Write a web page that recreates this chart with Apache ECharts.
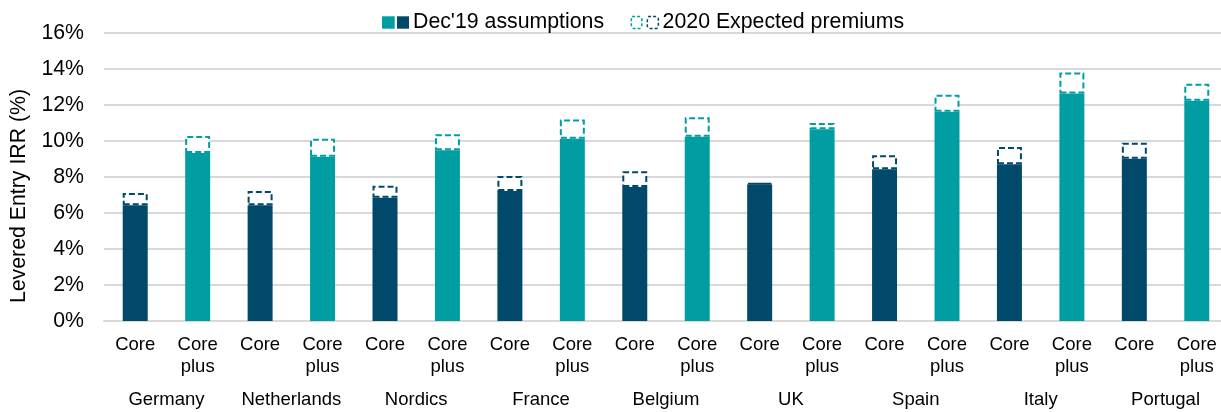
<!DOCTYPE html>
<html>
<head>
<meta charset="utf-8">
<script src="https://cdn.jsdelivr.net/npm/echarts@6/dist/echarts.min.js"></script>
<style>
  html, body { margin: 0; padding: 0; background: #fff; }
  #chart { width: 1221px; height: 412px; }
</style>
</head>
<body>
<div id="chart"></div>
<script>
// categories
var countries = ['Germany', 'Netherlands', 'Nordics', 'France', 'Belgium', 'UK', 'Spain', 'Italy', 'Portugal'];
var tiers = ['Core', 'Core plus'];
// Dec'19 assumptions, per country: Core, Core plus
var dec19 = [6.43, 9.33, 6.43, 9.13, 6.85, 9.48, 7.22, 10.13, 7.44, 10.24, 7.59, 10.65, 8.43, 11.62, 8.71, 12.64, 9.01, 12.23];
// 2020 expected premiums (added on top)
var premium = [0.68, 0.95, 0.79, 1.0, 0.67, 0.89, 0.84, 1.07, 0.88, 1.08, 0.08, 0.35, 0.78, 0.95, 0.95, 1.16, 0.89, 0.95];
var yTicks = [0, 2, 4, 6, 8, 10, 12, 14, 16];

var navy = '#00496b';
var teal = '#009ea2';
var font = 'Liberation Sans, Arial, sans-serif';

var xCats = [];
countries.forEach(function (c) {
    tiers.forEach(function (t) { xCats.push(t); });
});
function tierColor(i) { return i % 2 === 0 ? navy : teal; }

var solidData = dec19.map(function (v, i) {
    return { value: v, itemStyle: { color: tierColor(i) } };
});
var premData = premium.map(function (v, i) {
    return { value: v, itemStyle: { color: '#fff', borderColor: tierColor(i) } };
});

var chart = echarts.init(document.getElementById('chart'));
var option = {
    animation: false,
    textStyle: { fontFamily: font },
    legend: {
        selectedMode: false,
        top: 7,
        left: 372,
        itemWidth: 0,
        itemHeight: 0,
        itemGap: 22,
        data: ["Dec'19 assumptions", '2020 Expected premiums'],
        textStyle: {
            color: '#000',
            fontSize: 21.3,
            fontFamily: font,
            rich: {
                a: { width: 12.7, height: 12.4, backgroundColor: teal },
                b: { width: 12, height: 12.4, backgroundColor: navy },
                c: { width: 9, height: 10.5, backgroundColor: '#fff', borderColor: teal, borderWidth: 1.5, borderType: [3, 2] },
                d: { width: 9.5, height: 10.5, backgroundColor: '#fff', borderColor: navy, borderWidth: 1.5, borderType: [3, 2] },
                g: { width: 2.3 },
                g2: { width: 7 },
                h: { width: 4 },
                h2: { width: 5 },
                t: { fontSize: 21.3, color: '#000', fontFamily: font }
            }
        },
        formatter: function (name) {
            if (name === "Dec'19 assumptions") {
                return '{a|}{g|}{b|}{h|}{t|' + name + '}';
            }
            return '{c|}{g2|}{d|}{h2|}{t|' + name + '}';
        }
    },
    grid: {
        left: 104,
        top: 33,
        width: 1124,
        height: 288,
        outerBoundsMode: 'none'
    },
    xAxis: [
        {
            type: 'category',
            data: xCats,
            position: 'bottom',
            axisLine: { show: true, lineStyle: { color: '#d9d9d9', width: 2 } },
            axisTick: { show: false },
            axisLabel: {
                interval: 0,
                margin: 13,
                color: '#000',
                fontSize: 18.5,
                lineHeight: 22,
                fontFamily: font,
                formatter: function (v) { return v.replace(' ', '\n'); }
            }
        },
        {
            type: 'category',
            data: countries,
            position: 'bottom',
            offset: 0,
            axisLine: { show: false },
            axisTick: { show: false },
            splitLine: { show: false },
            axisLabel: {
                interval: 0,
                margin: 69,
                color: '#000',
                fontSize: 18.5,
                fontFamily: font
            }
        }
    ],
    yAxis: {
        type: 'value',
        min: yTicks[0],
        max: yTicks[yTicks.length - 1],
        interval: 2,
        name: 'Levered Entry IRR (%)',
        nameLocation: 'middle',
        nameGap: 74,
        nameRotate: 90,
        nameTextStyle: { color: '#000', fontSize: 21.3, fontFamily: font, padding: [0, 38, 0, 0] },
        axisLine: { show: false },
        axisTick: { show: false },
        splitLine: { lineStyle: { color: '#d9d9d9', width: 2 } },
        axisLabel: {
            margin: 20,
            color: '#000',
            fontSize: 21.3,
            fontFamily: font,
            formatter: '{value}%'
        }
    },
    series: [
        {
            name: "Dec'19 assumptions",
            type: 'bar',
            stack: 'irr',
            barWidth: '40%',
            xAxisIndex: 0,
            itemStyle: { color: navy },
            data: solidData
        },
        {
            name: '2020 Expected premiums',
            type: 'bar',
            stack: 'irr',
            barWidth: '40%',
            xAxisIndex: 0,
            itemStyle: { color: '#fff', borderColor: navy, borderWidth: 2, borderType: [6, 3] },
            data: premData
        }
    ]
};
chart.setOption(option, true);
</script>
</body>
</html>
